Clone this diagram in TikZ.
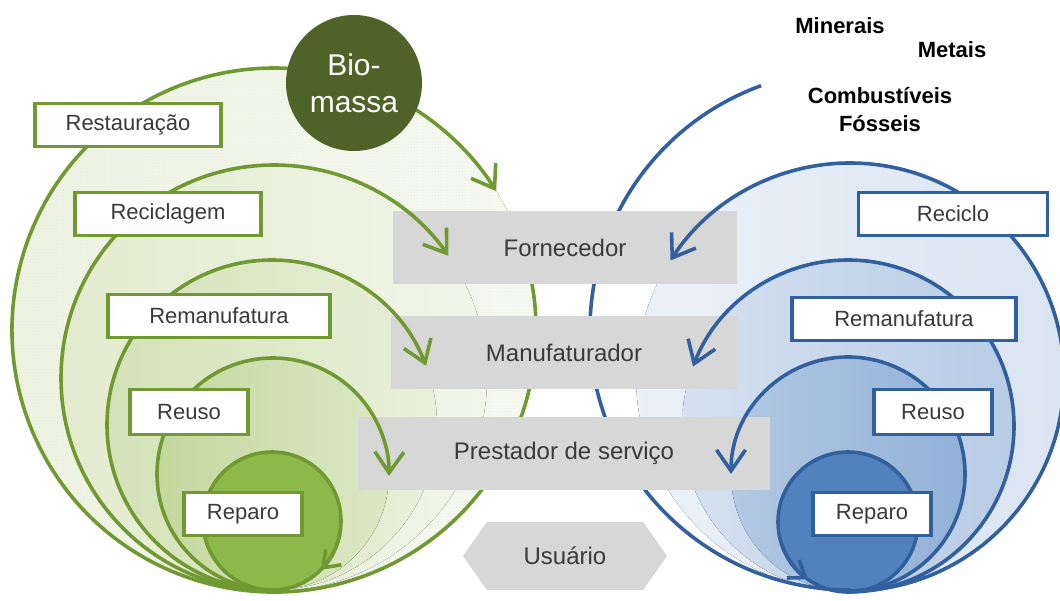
\documentclass[tikz,border=0pt]{standalone}
\usepackage{fontspec}
\setmainfont{Liberation Sans}
\usepackage{tikz}
\usetikzlibrary{arrows.meta, shapes, shapes.symbols, patterns, positioning}
\definecolor{greenline}{RGB}{112,153,50}
\definecolor{blueline}{RGB}{50,96,158}
\definecolor{biogreen}{RGB}{79,98,40}
\definecolor{gfillA}{RGB}{238,243,227}
\definecolor{gfillB}{RGB}{226,235,206}
\definecolor{gfillC}{RGB}{211,226,183}
\definecolor{gfillD}{RGB}{195,216,158}
\definecolor{gfillE}{RGB}{141,184,74}
\definecolor{bfillB}{RGB}{218,229,242}
\definecolor{bfillC}{RGB}{184,204,229}
\definecolor{bfillD}{RGB}{146,177,215}
\definecolor{bfillE}{RGB}{82,130,190}
\definecolor{boxgray}{RGB}{215,215,215}
\definecolor{textgray}{RGB}{58,58,58}

\tikzset{
	lbox/.style={draw, fill=white, line width=3.5pt, minimum height=43pt, inner sep=0pt, text=textgray, font=\fontsize{22}{26}\selectfont},
	greenbox/.style={lbox, draw=greenline},
	bluebox/.style={lbox, draw=blueline},
	stage/.style={fill=boxgray, minimum height=73pt, inner sep=0pt, text=textgray, font=\fontsize{24}{28}\selectfont},
	gline/.style={draw=greenline, line width=3.6pt},
	bline/.style={draw=blueline, line width=3.6pt},
	barb/.style={-{Straight Barb[length=21pt,width=29pt]}},
	smallbarb/.style={-{Straight Barb[length=15pt,width=22pt]}},
	source/.style={font=\bfseries\fontsize{22}{28}\selectfont, text=black, align=center}
}

\begin{document}
\begin{tikzpicture}[x=1pt, y=-1pt]
		\useasboundingbox (0,0) rectangle (1060,601);

		% centres of the loops
		\coordinate (gA) at (274,330);
		\coordinate (gB) at (274,378);
		\coordinate (gC) at (272,425);
		\coordinate (gD) at (273,474);
		\coordinate (gE) at (272,521);
		\coordinate (bA) at (850,330);
		\coordinate (bB) at (850,377);
		\coordinate (bC) at (848,426);
		\coordinate (bD) at (848,474);
		\coordinate (bE) at (848,522);

		% green loops
		\fill[left color=gfillA, right color=gfillA!50!white] (gA) circle [radius=262];
		\fill[pattern=dots, pattern color=gfillC!70!white] (gA) circle [radius=262];
		\fill[left color=gfillB, right color=gfillB!45!white] (gB) circle [radius=213];
		\fill[left color=gfillC, right color=gfillC!50!white] (gC) circle [radius=165];
		\fill[left color=gfillD, right color=gfillD!60!white] (gD) circle [radius=116];
		\draw[gline, fill=gfillE] (gE) circle [radius=69];
		\draw[gline] (gA) ++(-26:262) arc[start angle=-26, end angle=300, radius=262];

		% blue loops
		\fill[left color=bfillB!55!white, right color=bfillB] (bB) circle [radius=214];
		\fill[left color=bfillC!60!white, right color=bfillC] (bC) circle [radius=166];
		\fill[left color=bfillD!70!white, right color=bfillD] (bD) circle [radius=117];
		\draw[bline, fill=bfillE] (bE) circle [radius=70];
		\draw[bline] (bA) ++(250:260) arc[start angle=250, end angle=90, radius=260];

		% value chain
		\node(forn)  [stage, minimum width=344pt] at (565,248)  {Fornecedor};
		\node(manu)  [stage, minimum width=346pt] at (564,353)  {Manufaturador};
		\node(prest)  [stage, minimum width=412pt] at (564,453)  {Prestador de serviço};
		\node(user)  [stage, shape=signal, signal to=west and east, signal pointer angle=110, minimum width=204pt, minimum height=68pt] at (565,556)  {Usuário};

		% loops with arrows
		\draw[gline, barb] (gA) ++(-58:262) arc[start angle=-58, end angle=-32, radius=262];
		\draw[gline, barb] (gB) ++(90:213) arc[start angle=90, end angle=325, radius=213];
		\draw[gline, barb] (gC) ++(90:165) arc[start angle=90, end angle=339, radius=165];
		\draw[gline, barb] (gD) ++(90:116) arc[start angle=90, end angle=361, radius=116];
		\draw[gline, smallbarb] (gE) ++(10:69) arc[start angle=10, end angle=45, radius=69];

		\draw[bline, barb] (bB) ++(90:214) arc[start angle=90, end angle=-147, radius=214];
		\draw[bline, barb] (bC) ++(90:166) arc[start angle=90, end angle=-159, radius=166];
		\draw[bline, barb] (bD) ++(90:117) arc[start angle=90, end angle=-180, radius=117];
		\draw[bline, smallbarb] (bE) ++(160:70) arc[start angle=160, end angle=125, radius=70];

		% labels
		\node(gRest)  [greenbox, minimum width=186pt] at (128,125)  {Restauração};
		\node(gRecl)  [greenbox, minimum width=186pt] at (168,214)  {Reciclagem};
		\node(gReman)  [greenbox, minimum width=222pt] at (219,316)  {Remanufatura};
		\node(gReuso)  [greenbox, minimum width=118pt, minimum height=45pt] at (189,412)  {Reuso};
		\node(gRep)  [greenbox, minimum width=118pt] at (243,514)  {Reparo};

		\node(bRecl)  [bluebox, minimum width=189pt] at (953,214)  {Reciclo};
		\node(bReman)  [bluebox, minimum width=224pt] at (904,319)  {Remanufatura};
		\node(bReuso)  [bluebox, minimum width=118pt, minimum height=45pt] at (933,412)  {Reuso};
		\node(bRep)  [bluebox, minimum width=118pt] at (872,514)  {Reparo};

		% sources
		\node(bio)  [circle, fill=biogreen, minimum size=136pt, inner sep=0pt, text=white, align=center, font=\fontsize{30}{37}\selectfont] at (354,83)  {Bio-\\massa};
		\node(min)  [source] at (840,26)  {Minerais};
		\node(met)  [source] at (952,50)  {Metais};
		\node(fos)  [source] at (880,110)  {Combustíveis\\Fósseis};
\end{tikzpicture}
\end{document}
